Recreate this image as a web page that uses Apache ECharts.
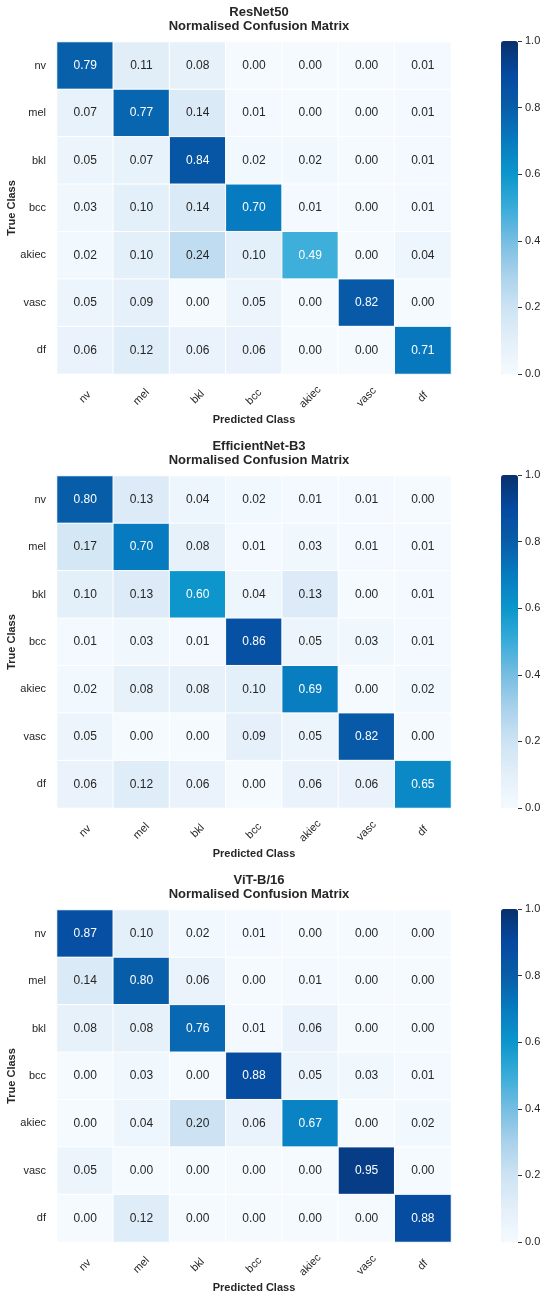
<!DOCTYPE html>
<html>
<head>
<meta charset="utf-8">
<script src="https://cdn.jsdelivr.net/npm/echarts@6/dist/echarts.min.js"></script>
<style>
  html, body { margin: 0; padding: 0; background: #fff; }
  #chart { width: 550px; height: 1302px; }
</style>
</head>
<body>
<div id="chart"></div>
<script>
// class labels (same for rows and columns)
var classes = ['nv', 'mel', 'bkl', 'bcc', 'akiec', 'vasc', 'df'];
var modelNames = ['ResNet50', 'EfficientNet-B3', 'ViT-B/16'];

// rows = true class, cols = predicted class
var resnet = [
    [0.79, 0.11, 0.08, 0.00, 0.00, 0.00, 0.01],
    [0.07, 0.77, 0.14, 0.01, 0.00, 0.00, 0.01],
    [0.05, 0.07, 0.84, 0.02, 0.02, 0.00, 0.01],
    [0.03, 0.10, 0.14, 0.70, 0.01, 0.00, 0.01],
    [0.02, 0.10, 0.24, 0.10, 0.49, 0.00, 0.04],
    [0.05, 0.09, 0.00, 0.05, 0.00, 0.82, 0.00],
    [0.06, 0.12, 0.06, 0.06, 0.00, 0.00, 0.71]
];
var effnet = [
    [0.80, 0.13, 0.04, 0.02, 0.01, 0.01, 0.00],
    [0.17, 0.70, 0.08, 0.01, 0.03, 0.01, 0.01],
    [0.10, 0.13, 0.60, 0.04, 0.13, 0.00, 0.01],
    [0.01, 0.03, 0.01, 0.86, 0.05, 0.03, 0.01],
    [0.02, 0.08, 0.08, 0.10, 0.69, 0.00, 0.02],
    [0.05, 0.00, 0.00, 0.09, 0.05, 0.82, 0.00],
    [0.06, 0.12, 0.06, 0.00, 0.06, 0.06, 0.65]
];
var vit = [
    [0.87, 0.10, 0.02, 0.01, 0.00, 0.00, 0.00],
    [0.14, 0.80, 0.06, 0.00, 0.01, 0.00, 0.00],
    [0.08, 0.08, 0.76, 0.01, 0.06, 0.00, 0.00],
    [0.00, 0.03, 0.00, 0.88, 0.05, 0.03, 0.01],
    [0.00, 0.04, 0.20, 0.06, 0.67, 0.00, 0.02],
    [0.05, 0.00, 0.00, 0.00, 0.00, 0.95, 0.00],
    [0.00, 0.12, 0.00, 0.00, 0.00, 0.00, 0.88]
];
var matrices = [resnet, effnet, vit];

// colour ramp, 0.0 -> 1.0 in steps of 0.1
var ramp = ['#f5faff', '#e3eff9', '#cde3f3', '#a9d1ec', '#76bde2', '#38acd9',
            '#0c96cc', '#077bc0', '#085da9', '#0649a0', '#08306b'];

var FONT = "'Liberation Sans', Arial, sans-serif";
var TXT = '#262626';

var panelOffset = 434;
var gridLeft = 57, gridTop = 42, gridW = 394, gridH = 332;
var cbLeft = 501, cbW = 17;

var chart = echarts.init(document.getElementById('chart'), null, {renderer: 'canvas'});

var option = {
    backgroundColor: '#fff',
    animation: false,
    textStyle: {fontFamily: FONT},
    title: [], grid: [], xAxis: [], yAxis: [], visualMap: [], series: []
};

matrices.forEach(function (m, p) {
    var top = gridTop + p * panelOffset;
    var data = [];
    m.forEach(function (row, r) {
        row.forEach(function (v, c) {
            data.push([c, r, v]);
        });
    });

    option.title.push({
        text: modelNames[p] + '\nNormalised Confusion Matrix',
        left: gridLeft + gridW / 2,
        top: 0 + p * panelOffset,
        textAlign: 'center',
        textStyle: {fontFamily: FONT, fontSize: 13, fontWeight: 'bold', color: TXT, lineHeight: 14}
    });

    // heatmap grid
    option.grid.push({left: gridLeft, top: top, width: gridW, height: gridH,
                      containLabel: false, outerBoundsMode: 'none'});
    option.xAxis.push({
        type: 'category', gridIndex: p * 2, data: classes,
        name: 'Predicted Class', nameLocation: 'middle', nameGap: 40, nameMoveOverlap: false,
        nameTextStyle: {fontFamily: FONT, fontSize: 11, fontWeight: 'bold', color: TXT},
        axisLine: {show: false}, axisTick: {show: false}, splitArea: {show: false},
        axisLabel: {rotate: 45, align: 'center', verticalAlign: 'middle', margin: 23,
                    fontFamily: FONT, fontSize: 11, color: TXT}
    });
    option.yAxis.push({
        type: 'category', gridIndex: p * 2, data: classes, inverse: true,
        name: 'True Class', nameLocation: 'middle', nameGap: 40, nameRotate: 90,
        nameMoveOverlap: false,
        nameTextStyle: {fontFamily: FONT, fontSize: 11, fontWeight: 'bold', color: TXT},
        axisLine: {show: false}, axisTick: {show: false},
        axisLabel: {margin: 11, fontFamily: FONT, fontSize: 11, color: TXT}
    });

    // colorbar tick axis
    option.grid.push({left: cbLeft, top: top - 1, width: cbW, height: gridH + 1,
                      containLabel: false, outerBoundsMode: 'none'});
    option.xAxis.push({type: 'value', gridIndex: p * 2 + 1, show: false, min: 0, max: 1});
    option.yAxis.push({
        type: 'value', gridIndex: p * 2 + 1, position: 'right',
        min: 0, max: 1, interval: 0.2,
        axisLine: {show: true, onZero: false, lineStyle: {color: '#333', opacity: 0}},
        splitLine: {show: false},
        axisTick: {show: true, inside: false, length: 4, lineStyle: {color: '#333', width: 1}},
        axisLabel: {margin: 7, fontFamily: FONT, fontSize: 11, color: TXT,
                    formatter: function (v) { return v.toFixed(1); }}
    });

    option.visualMap.push({
        type: 'continuous', seriesIndex: p, min: 0, max: 1,
        left: cbLeft, top: top - 1, itemWidth: cbW, itemHeight: gridH + 1,
        padding: 0, calculable: false, hoverLink: false, text: null,
        inRange: {color: ramp}
    });

    option.series.push({
        type: 'heatmap', xAxisIndex: p * 2, yAxisIndex: p * 2, data: data,
        itemStyle: {borderColor: '#fff', borderWidth: 1},
        label: {
            show: true,
            formatter: function (d) {
                var v = d.value[2];
                return (v > 0.45 ? '{w|' : '{d|') + v.toFixed(2) + '}';
            },
            rich: {
                w: {color: '#fff', fontFamily: FONT, fontSize: 12},
                d: {color: TXT, fontFamily: FONT, fontSize: 12}
            }
        },
        emphasis: {disabled: true}
    });
});

chart.setOption(option);
</script>
</body>
</html>
